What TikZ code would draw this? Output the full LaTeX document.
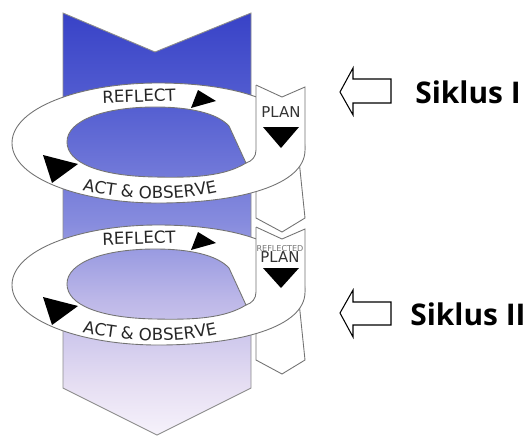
\documentclass[tikz,border=0pt]{standalone}
\usepackage{fontspec}
\setmainfont{DejaVu Sans}
\newfontfamily\sikfont{Open Sans}
\usetikzlibrary{decorations.text}
\pgfdeclareverticalshading{bandshade}{100bp}{rgb(0bp)=(0.965,0.95,0.985); rgb(25bp)=(0.965,0.95,0.985); rgb(31bp)=(0.90,0.87,0.95); rgb(41bp)=(0.74,0.72,0.91); rgb(50bp)=(0.53,0.55,0.87); rgb(64bp)=(0.33,0.37,0.82); rgb(75bp)=(0.22,0.26,0.78); rgb(100bp)=(0.22,0.26,0.78)}
\newcommand\ringfont{\fontsize{9.5}{10}\selectfont}
\tikzset{
 edge/.style={draw=black!55, line width=0.5pt},
 ribbon/.style={fill=white, edge},
 tri/.style={fill=black},
 lab/.style={font=\ringfont, text=black!85, inner sep=0pt},
 planlab/.style={font=\fontsize{8.5}{9}\selectfont, text=black!80, inner sep=0pt},
 hollow/.style={draw=black, line width=0.6pt, fill=white, line join=miter},
 siklus/.style={font=\sikfont\bfseries\fontsize{17}{20}\selectfont, inner sep=0pt, anchor=base west},
}
\begin{document}
\begin{tikzpicture}[x=0.02cm,y=-0.02cm]
\useasboundingbox (0,0) rectangle (524,437);
% main band
\path[shading=bandshade, shade, draw=black!45, line width=0.5pt] (63,13) -- (155,52) -- (251,13) -- (251,388) -- (157,435) -- (63,388) -- cycle;
% loops
\foreach \dy/\n in {0/a,142/b} {
 \begin{scope}[shift={(0,\dy)}]
  % band piece below ring
  \path[ribbon] (256,180) -- (256,218) -- (282,232) -- (305,218) -- (299,160) -- cycle;
  % ring with hole
  \path[ribbon, even odd rule]
    (305,150) .. controls (305,185) and (240,203) .. (158,203)
    .. controls (80,203) and (12,178) .. (12,143)
    .. controls (12,108) and (80,83) .. (158,83)
    .. controls (230,83) and (305,100) .. (305,150) -- cycle
    (229,126) -- (246,163) .. controls (225,176) and (195,178) .. (155,177)
    .. controls (100,176) and (67,163) .. (67,142)
    .. controls (67,120) and (105,107) .. (155,107)
    .. controls (190,107) and (217,113) .. (229,126) -- cycle;
  % plan band over ring
  \fill[white] (256,85) -- (282,97) -- (305,87) -- (305,150) -- (256,150) -- cycle;
  \draw[edge] (256,85) -- (282,97) -- (305,87) -- (305,150);
  \draw[edge] (256,85) -- (256,150) .. controls (256,157) and (252,161) .. (246,163);
  % labels and arrows
  \node[lab, rotate=2] (reflect-\n) at (139,96) {REFLECT};
  \fill[tri] (191,108) -- (198,90) -- (216,101) -- cycle;
  \fill[tri] (43,155) -- (52,183) -- (78,164) -- cycle;
  \path[decorate, decoration={text along path, text={|\ringfont\color{black!85}|ACT {\&} OBSERVE}, text align=center}]
    (78,189) .. controls (125,201) and (175,202) .. (222,191);
 \end{scope}
}
% plan labels
\node[planlab] (plan-a) at (281,112) {PLAN};
\fill[tri] (263,127) -- (299,127) -- (281,148) -- cycle;
\node[inner sep=0pt, text=black!55, font=\fontsize{4.6}{5}\selectfont] (refl-b) at (280,248.5) {REFLECTED};
\node[planlab] (plan-b) at (280,257.5) {PLAN};
\fill[tri] (263,268) -- (299,268) -- (281,288) -- cycle;
% siklus arrows
\path[hollow] (340,92) -- (353,68) -- (353,79) -- (391,79) -- (391,103) -- (353,103) -- (353,115) -- cycle;
\node[siklus] (s1) at (415,103) {Siklus I};
\path[hollow] (340,313) -- (353,290) -- (353,302) -- (391,302) -- (391,325) -- (353,325) -- (353,337) -- cycle;
\node[siklus] (s2) at (410,325) {Siklus II};
\end{tikzpicture}
\end{document}
